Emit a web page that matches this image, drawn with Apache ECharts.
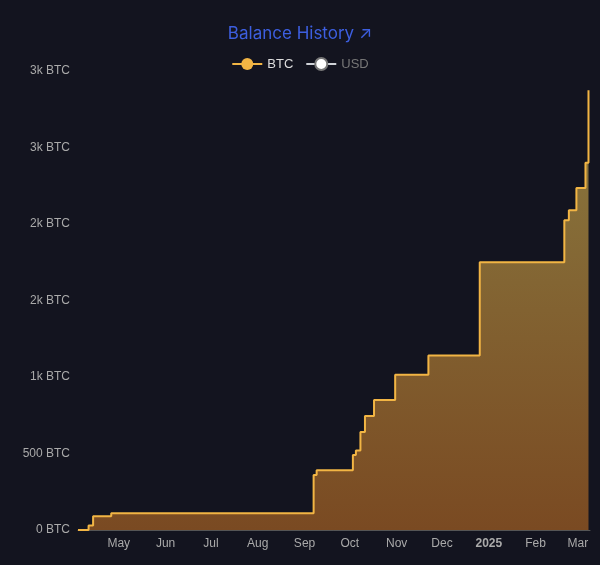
<!DOCTYPE html>
<html><head><meta charset="utf-8">
<script src="https://cdn.jsdelivr.net/npm/echarts@6/dist/echarts.min.js"></script>
<style>html,body{margin:0;background:#13141f}#c{width:600px;height:565px}</style>
</head><body><div id="c"></div>
<script>
const dates = ['2024-04-04','2024-04-11','2024-04-14','2024-04-26','2024-09-07','2024-09-09','2024-10-03','2024-10-05','2024-10-08','2024-10-11','2024-10-17','2024-10-31','2024-11-22','2024-12-26','2025-02-20','2025-02-23','2025-02-28','2025-03-06','2025-03-08'];
const btc   = [0,30,90,110,360,390,490,520,640,745,850,1015,1140,1750,2025,2090,2235,2400,2875];
const chart = echarts.init(document.getElementById('c'));
chart.setOption({
  backgroundColor:'#13141f',
  title:{text:'Balance History ↗',left:'center',top:20,textStyle:{color:'#3d5fe0',fontSize:17,fontWeight:'normal',fontFamily:'Inter'}},
  legend:{top:52,left:'center',itemWidth:30,itemHeight:15,itemGap:12,textStyle:{color:'#ddd',fontSize:13},inactiveColor:'#777',
    data:['BTC','USD'],selected:{USD:false}},
  grid:{left:78,right:10,top:71,bottom:35},
  xAxis:{type:'time',min:'2024-04-04',max:'2025-03-09',
    axisLine:{lineStyle:{color:'#555'}},axisTick:{show:false},splitLine:{show:false},
    axisLabel:{color:'#aaa',fontSize:12,hideOverlap:true}},
  yAxis:{type:'value',min:0,max:3000,interval:500,splitLine:{show:false},
    axisLabel:{color:'#aaa',fontSize:12,formatter:v=>v<1000?v+' BTC':Math.round(v/1000)+'k BTC'}},
  series:[
    {name:'BTC',type:'line',step:'end',symbol:'none',color:'#f2b544',
     lineStyle:{color:'#f2b544',width:2},
     areaStyle:{color:new echarts.graphic.LinearGradient(0,0,0,1,[{offset:0,color:'#8a7a40'},{offset:1,color:'#7a4a22'}]),opacity:1},
     data:dates.map((d,i)=>[d,btc[i]])},
    {name:'USD',type:'line',color:'#888',data:[]}
  ]
});
</script></body></html>
